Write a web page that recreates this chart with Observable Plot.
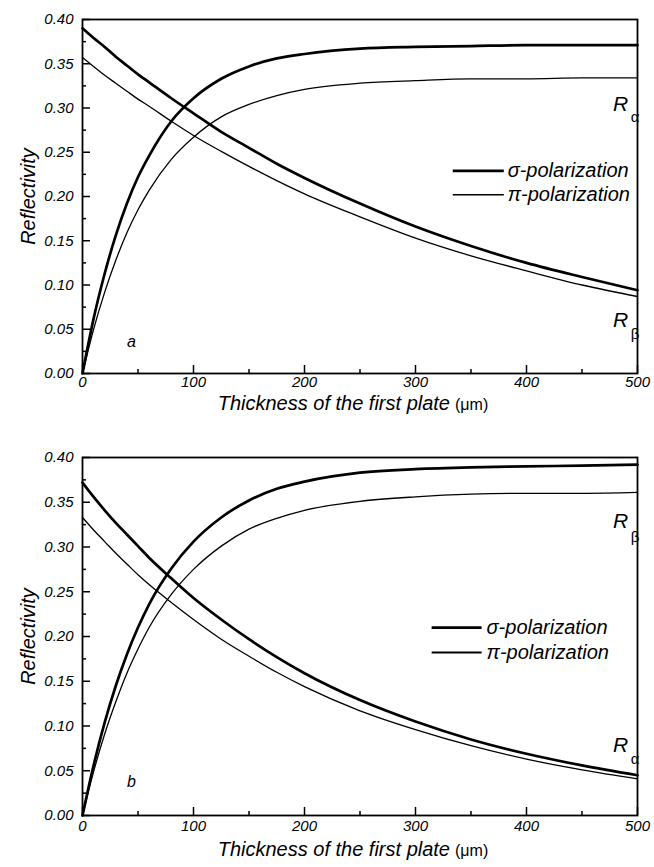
<!DOCTYPE html>
<html><head><meta charset="utf-8">
<script src="https://cdn.jsdelivr.net/npm/d3@7"></script>
<script src="https://cdn.jsdelivr.net/npm/@observablehq/plot@0.6"></script>
<style>
html,body{margin:0;padding:0;background:#fff}
#chart svg{display:block}
</style>
</head><body><div id="chart"></div>
<script>
// Thickness of the first plate (µm)
const thickness = [0,10,20,30,40,50,60,80,100,125,150,175,200,250,300,350,400,450,500];

// Panel a
const aSigmaRise = [0,0.062,0.113,0.156,0.192,0.222,0.246,0.285,0.311,0.333,0.347,0.356,0.361,0.367,0.369,0.370,0.371,0.371,0.371];
const aPiRise    = [0,0.050,0.092,0.128,0.159,0.185,0.207,0.242,0.267,0.290,0.304,0.314,0.321,0.328,0.331,0.333,0.333,0.334,0.334];
const aSigmaFall = [0.390,0.379,0.369,0.358,0.348,0.338,0.329,0.311,0.294,0.273,0.255,0.237,0.221,0.192,0.166,0.144,0.125,0.109,0.094];
const aPiFall    = [0.357,0.347,0.337,0.328,0.319,0.310,0.302,0.285,0.269,0.251,0.234,0.218,0.203,0.177,0.153,0.133,0.116,0.100,0.087];

// Panel b
const bSigmaRise = [0,0.056,0.104,0.145,0.180,0.210,0.236,0.276,0.306,0.333,0.352,0.365,0.373,0.383,0.387,0.389,0.390,0.391,0.392];
const bPiRise    = [0,0.049,0.091,0.127,0.159,0.186,0.210,0.247,0.275,0.301,0.320,0.332,0.341,0.351,0.356,0.359,0.360,0.360,0.361];
const bSigmaFall = [0.372,0.356,0.341,0.327,0.314,0.301,0.288,0.265,0.243,0.219,0.197,0.177,0.159,0.129,0.105,0.085,0.069,0.056,0.045];
const bPiFall    = [0.333,0.319,0.306,0.293,0.281,0.269,0.258,0.238,0.219,0.197,0.178,0.160,0.144,0.117,0.096,0.078,0.063,0.051,0.041];

const xTicks = [0,100,200,300,400,500];
const xMinor = [50,150,250,350,450];
const yTicks = [0,0.05,0.10,0.15,0.20,0.25,0.30,0.35,0.40];
const yMinor = [0.025,0.075,0.125,0.175,0.225,0.275,0.325,0.375];
const legendLabelsA = ["σ-polarization","π-polarization"];
const legendLabelsB = ["σ-polarization","π-polarization"];
const xTitle = "Thickness of the first plate";
const xUnit = "(μm)";
const yTitle = "Reflectivity";

function rows(sr, pr, sf, pf) {
  const out = [];
  thickness.forEach((t, i) => {
    out.push({t, r: sr[i], pol: "σ", branch: "σ-rise"});
    out.push({t, r: pr[i], pol: "π", branch: "π-rise"});
    out.push({t, r: sf[i], pol: "σ", branch: "σ-fall"});
    out.push({t, r: pf[i], pol: "π", branch: "π-fall"});
  });
  return out;
}

const W = 654, ML = 82, MR = 17;
const innerW = W - ML - MR;
const FONT = "'Liberation Sans', Arial, Helvetica, sans-serif";

function panel(cfg) {
  const innerH = cfg.height - cfg.marginTop - cfg.marginBottom;
  const data = cfg.data;
  return Plot.plot({
    width: W, height: cfg.height,
    marginLeft: ML, marginRight: MR, marginTop: cfg.marginTop, marginBottom: cfg.marginBottom,
    style: {fontFamily: FONT, fontSize: "15px", fontStyle: "italic", color: "black", background: "white", overflow: "visible"},
    x: {domain: [0, 500]},
    y: {domain: [0, 0.4]},
    marks: [
      Plot.line(data.filter(d => d.pol === "π"), {x: "t", y: "r", z: "branch", stroke: "black", strokeWidth: 1.3, curve: "monotone-x"}),
      Plot.line(data.filter(d => d.pol === "σ"), {x: "t", y: "r", z: "branch", stroke: "black", strokeWidth: 2.7, curve: "monotone-x"}),
      Plot.frame({stroke: "black", strokeWidth: 1.8}),
      Plot.tickX(xTicks, {x: d => d, insetTop: innerH - 8, stroke: "black", strokeWidth: 1.5}),
      Plot.tickX(xMinor, {x: d => d, insetTop: innerH - 4, stroke: "black", strokeWidth: 1.5}),
      Plot.tickY(yTicks, {y: d => d, insetRight: innerW - 8, stroke: "black", strokeWidth: 1.5}),
      Plot.tickY(yMinor, {y: d => d, insetRight: innerW - 4, stroke: "black", strokeWidth: 1.5}),
      Plot.axisX({ticks: xTicks, tickSize: 0, tickPadding: cfg.xPad, tickFormat: d => String(d), label: null, fontSize: 15}),
      Plot.axisY({ticks: yTicks, tickSize: 0, tickPadding: 9, tickFormat: d3.format(".2f"), label: null, fontSize: 15}),
      Plot.text([xTitle], {text: d => d, frameAnchor: "bottom", lineAnchor: "middle", dy: cfg.titleDy, dx: 90, textAnchor: "end", fontSize: 20, fontStyle: "italic"}),
      Plot.text([xUnit], {text: d => d, frameAnchor: "bottom", lineAnchor: "middle", dy: cfg.titleDy + 1, dx: 95, textAnchor: "start", fontSize: 16, fontStyle: "normal"}),
      Plot.text([yTitle], {text: d => d, frameAnchor: "left", textAnchor: "middle", lineAnchor: "middle", dx: -54, rotate: -90, fontSize: 20, fontStyle: "italic"}),
      // legend
      Plot.ruleY([cfg.leg.y[0]], {x1: cfg.leg.x1, x2: cfg.leg.x2, stroke: "black", strokeWidth: 2.7}),
      Plot.ruleY([cfg.leg.y[1]], {x1: cfg.leg.x1, x2: cfg.leg.x2, stroke: "black", strokeWidth: cfg.leg.piWidth}),
      Plot.text(cfg.leg.labels, {x: cfg.leg.tx, y: (d, i) => cfg.leg.y[i], text: d => d, textAnchor: "start", lineAnchor: "middle", fontSize: 20, fontStyle: "italic"}),
      // panel letter
      Plot.text([cfg.letter.text], {x: cfg.letter.x, y: cfg.letter.y, text: d => d, textAnchor: "start", lineAnchor: "bottom", fontSize: 16, fontStyle: "italic"}),
      // R labels with subscripts
      Plot.text(cfg.rlabels, {x: d => d.x, y: d => d.y, text: d => "R", textAnchor: "start", lineAnchor: "bottom", fontSize: 21, fontStyle: "italic"}),
      Plot.text(cfg.rlabels, {x: d => d.sx, y: d => d.sy, text: d => d.sub, textAnchor: "start", lineAnchor: "bottom", fontSize: 15, fontStyle: "normal"})
    ]
  });
}

const panelA = panel({
  height: 412, marginTop: 19, marginBottom: 39, xPad: 3, titleDy: 30,
  data: rows(aSigmaRise, aPiRise, aSigmaFall, aPiFall),
  leg: {y: [0.229, 0.202], x1: 334, x2: 380, tx: 383, labels: legendLabelsA, piWidth: 1.3},
  letter: {text: "a", x: 40, y: 0.030},
  rlabels: [
    {sub: "α", x: 478, y: 0.297, sx: 494, sy: 0.284},
    {sub: "β", x: 478, y: 0.052, sx: 494, sy: 0.039}
  ]
});
const panelB = panel({
  height: 455, marginTop: 45, marginBottom: 52, xPad: 5, titleDy: 34,
  data: rows(bSigmaRise, bPiRise, bSigmaFall, bPiFall),
  leg: {y: [0.210, 0.182], x1: 315, x2: 360, tx: 364, labels: legendLabelsB, piWidth: 2.0},
  letter: {text: "b", x: 40, y: 0.032},
  rlabels: [
    {sub: "β", x: 478, y: 0.321, sx: 494, sy: 0.306},
    {sub: "α", x: 478, y: 0.071, sx: 494, sy: 0.058}
  ]
});
const el = document.getElementById("chart");
el.appendChild(panelA);
el.appendChild(panelB);
</script>
</body></html>
